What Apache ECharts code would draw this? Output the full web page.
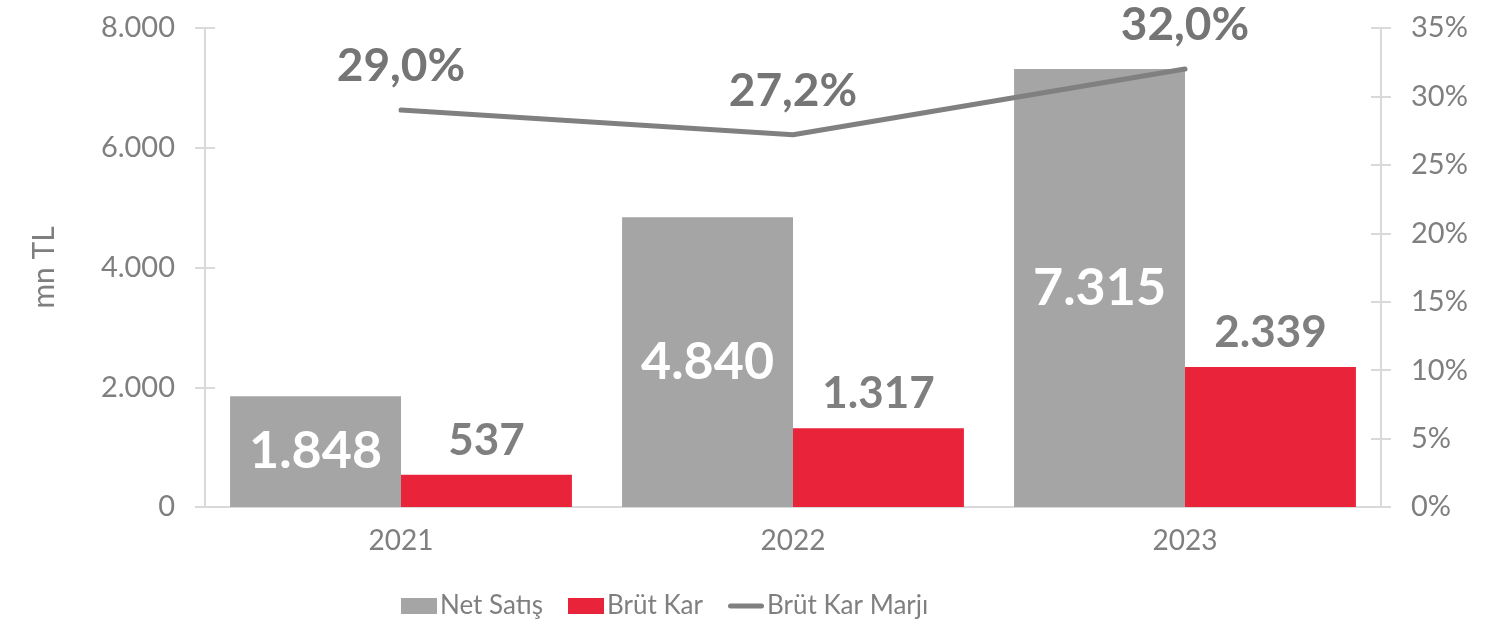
<!DOCTYPE html>
<html>
<head>
<meta charset="utf-8">
<script src="https://cdn.jsdelivr.net/npm/echarts@6/dist/echarts.min.js"></script>
<style>
  html, body { margin: 0; padding: 0; background: #fff; }
  #chart { width: 1498px; height: 630px; }
</style>
</head>
<body>
<div id="chart"></div>
<script>
var years = ['2021', '2022', '2023'];
var netSatis = [1848, 4840, 7315];
var brutKar = [537, 1317, 2339];
var brutKarMarji = [29.0, 27.2, 32.0];

var textGray = '#7f7f7f';
var axisGray = '#d9d9d9';
var font = 'Lato';

// binlik ayırıcı nokta
function fmtTL(v) {
    return String(v).replace(/\B(?=(\d{3})+(?!\d))/g, '.');
}

var chart = echarts.init(document.getElementById('chart'));

var tickAxis = function (pos, min, max, interval) {
    return {
        type: 'value',
        position: pos,
        min: min,
        max: max,
        interval: interval,
        axisLine: { show: false },
        axisTick: { show: true, inside: true, length: 10, lineStyle: { color: axisGray, width: 2 } },
        axisLabel: { show: false },
        splitLine: { show: false }
    };
};

// lejant için yuvarlak uçlu çizgi (üst/alt noktalar kutuyu 36x16 tutar)
var lineIcon = 'path://M0,0L0.01,0M2.5,5.5L33.5,5.5A2.5,2.5,0,0,1,33.5,10.5L2.5,10.5A2.5,2.5,0,0,1,2.5,5.5ZM0,16L0.01,16';

chart.setOption({
    textStyle: { fontFamily: font },
    grid: { left: 205, right: 117, top: 28, bottom: 123 },
    legend: {
        bottom: 6,
        left: 396,
        itemWidth: 36,
        itemHeight: 16,
        itemGap: 25,
        textStyle: { color: textGray, fontSize: 26, padding: [0, 0, 0, -2] },
        data: [
            { name: 'Net Satış', icon: 'rect' },
            { name: 'Brüt Kar', icon: 'rect' },
            { name: 'Brüt Kar Marjı', icon: lineIcon, itemStyle: { color: '#808080', borderWidth: 0 } }
        ]
    },
    xAxis: {
        type: 'category',
        data: years,
        axisLine: { lineStyle: { color: axisGray, width: 2 } },
        axisTick: { show: false },
        axisLabel: { color: textGray, fontSize: 28, margin: 20 }
    },
    yAxis: [
        {
            type: 'value',
            position: 'left',
            min: 0,
            max: 8000,
            interval: 2000,
            name: 'mn TL',
            nameLocation: 'middle',
            nameGap: 146,
            nameTextStyle: { color: textGray, fontSize: 30 },
            axisLine: { show: true, lineStyle: { color: axisGray, width: 2 } },
            axisTick: { show: true, length: 10, lineStyle: { color: axisGray, width: 2 } },
            axisLabel: { color: textGray, fontSize: 29, margin: 30, formatter: fmtTL },
            splitLine: { show: false }
        },
        {
            type: 'value',
            position: 'right',
            min: 0,
            max: 35,
            interval: 5,
            axisLine: { show: true, lineStyle: { color: axisGray, width: 2 } },
            axisTick: { show: true, length: 10, lineStyle: { color: axisGray, width: 2 } },
            axisLabel: { color: textGray, fontSize: 29, margin: 30, formatter: '{value}%' },
            splitLine: { show: false }
        },
        tickAxis('left', 0, 8000, 2000),
        tickAxis('right', 0, 35, 5)
    ],
    series: [
        {
            name: 'Net Satış',
            type: 'bar',
            data: netSatis,
            barGap: '0%',
            barCategoryGap: '12.8%',
            itemStyle: { color: '#a5a5a5' },
            label: {
                show: true,
                position: 'inside',
                color: '#ffffff',
                fontSize: 52,
                fontWeight: 'bold',
                formatter: function (p) { return fmtTL(p.value); }
            }
        },
        {
            name: 'Brüt Kar',
            type: 'bar',
            data: brutKar,
            itemStyle: { color: '#e8233a' },
            label: {
                show: true,
                position: 'top',
                distance: 12,
                color: textGray,
                fontSize: 44,
                fontWeight: 'bold',
                formatter: function (p) { return fmtTL(p.value); }
            }
        },
        {
            name: 'Brüt Kar Marjı',
            type: 'line',
            yAxisIndex: 1,
            data: brutKarMarji,
            symbol: 'circle',
            symbolSize: 1,
            showSymbol: true,
            z: 5,
            lineStyle: { color: '#808080', width: 5, cap: 'round' },
            itemStyle: { color: '#808080' },
            label: {
                show: true,
                position: 'top',
                distance: 20,
                color: '#757575',
                fontSize: 46,
                fontWeight: 'bold',
                formatter: function (p) { return p.value.toFixed(1).replace('.', ',') + '%'; }
            }
        }
    ]
});
</script>
</body>
</html>
